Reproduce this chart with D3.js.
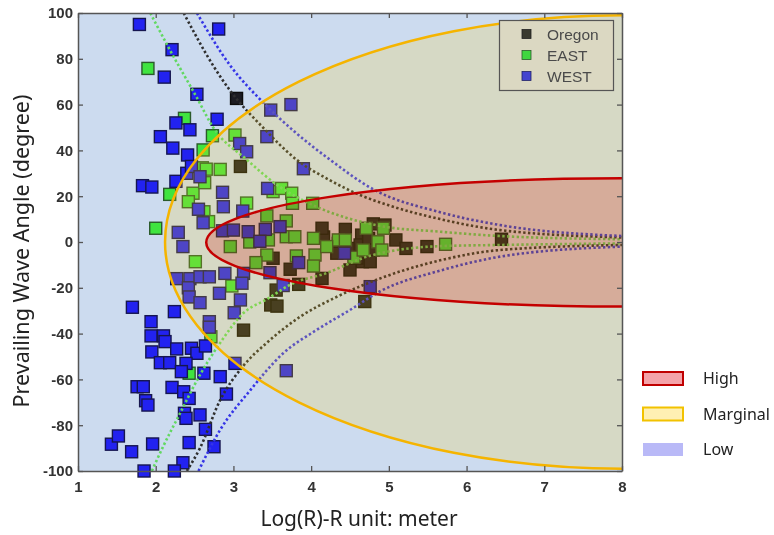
<!DOCTYPE html>
<html>
<head>
<meta charset="utf-8">
<script src="https://cdn.jsdelivr.net/npm/d3@7"></script>
<style>
body { margin: 0; background: #fff; }
</style>
</head>
<body>
<script>
var w = 774, h = 535;

// [Log(R), angle]
var oregon = [
  [3.04,62.7],[3.09,33],[4.44,5.5],[4.8,7.9],[4.95,7.4],[4.16,2.2],[4.65,3],[4.35,-0.6],
  [4.5,-2.8],[4.63,-1.3],[4.74,1.6],[4.8,-3.5],[4.66,-8.6],[4.76,-8.6],[4.33,-4.9],[5.09,0.9],
  [5.22,-2.8],[5.49,-2],[6.45,1.2],[4.5,-12.2],[4.14,-15.9],[3.73,-11.9],[3.51,-7.1],[3.84,-18.5],
  [3.55,-21],[3.48,-27.5],[3.56,-28],[3.13,-38.5],[4.69,-26],[4.14,6],[4.59,-7]
];
var east = [
  [1.90,75.8],[2.37,54],[2.73,46.4],[2.61,40.2],[3.02,46.7],[2.0,6],[2.18,20.8],[2.48,21.3],
  [2.60,32.4],[2.65,31.8],[2.83,31.7],[2.63,25.9],[3.17,17],[2.42,17.6],[2.62,13.2],[2.68,8.9],
  [2.96,-2],[3.51,22],[3.62,23.4],[3.75,21.3],[3.76,16.9],[4.02,16.9],[3.43,11.4],[3.68,9.2],
  [3.68,2.3],[3.79,2.3],[3.21,0],[3.45,0.9],[4.71,6],[4.93,6],[4.03,1.6],[4.35,0.9],
  [3.43,-5.7],[3.29,-9],[3.81,-6.1],[4.05,-5.7],[4.03,-10.5],[4.2,-2],[4.44,0.9],[4.55,-6.7],
  [4.67,-3.5],[4.86,0.1],[4.91,-3.5],[5.73,-1],[2.51,-8.6],[2.98,-19.2],[2.71,-41.4],[2.43,-57.3]
];
var west = [
  [1.79,95],[2.81,93],[2.21,84],[2.11,72],[2.53,64.5],[2.26,52],[2.44,49],[2.79,53.6],
  [2.06,46],[2.22,41],[2.41,38],[1.83,24.6],[1.95,24],[2.26,26.5],[2.40,30],[2.46,33],
  [3.48,57.6],[3.74,60],[3.43,46],[3.90,32],[3.08,43],[3.17,39.4],[2.57,28.5],[2.86,21.7],
  [3.44,23.4],[2.87,15.4],[2.55,14.3],[2.61,8.4],[3.12,13.5],[2.29,4.2],[2.86,4.9],[3.0,5.2],
  [3.19,4.5],[3.41,5.5],[3.6,6.7],[3.34,0.3],[2.35,-2],[4.43,-4.9],[3.84,-9],[3.47,-13.4],
  [3.64,-19],[4.76,-19.5],[2.27,-16],[2.44,-16],[2.42,-20],[2.57,-15.2],[2.69,-15.2],[2.89,-13.7],
  [3.13,-13.7],[3.11,-18],[2.82,-22.4],[2.43,-24],[2.57,-26.5],[3.09,-25.3],[3.01,-30.9],[2.69,-34.8],
  [2.69,-37.2],[3.68,-56.2],[1.70,-28.5],[2.24,-30.4],[1.94,-34.8],[1.94,-41],[2.10,-41],[2.12,-43.5],
  [1.95,-48],[2.06,-52.7],[2.18,-52.7],[2.27,-46.7],[2.46,-46.4],[2.53,-48.6],[2.64,-45.4],[2.39,-53],
  [2.33,-56.6],[2.62,-57.3],[2.83,-58.8],[3.02,-53],[1.76,-63.2],[1.84,-63.2],[1.87,-69.3],[1.90,-71.2],
  [2.21,-63.5],[2.36,-65.4],[2.43,-68.3],[2.91,-66.4],[2.37,-74.8],[2.39,-77],[2.57,-75.5],[2.64,-81.8],
  [1.43,-88.3],[1.52,-84.7],[1.69,-91.6],[1.96,-88.2],[2.43,-87.6],[2.75,-89.4],[2.35,-96.4],[1.85,-100],
  [2.24,-100]
];

// dotted guide curves (upper / lower branch)
var greenUp = [[1.93,100],[2.18,84],[2.53,63],[2.74,50],[3.17,36],[3.6,24],[4.03,16],[4.89,7],[5.66,4.5],[6.43,2.6],[8,1.2]];
var greenLo = [[1.95,-100],[2.1,-89],[2.31,-75],[2.57,-58],[2.83,-44],[3.13,-31],[3.43,-25],[3.77,-18],[4.16,-14],[4.76,-6],[5.66,-1.8],[6.43,-1.3],[8,-0.6]];
var blackUp = [[2.36,100],[2.74,77],[2.96,66],[3.38,50],[3.81,36],[4.24,27],[4.63,20.5],[5.0,16],[5.66,10],[6.43,5.2],[8,2]];
var blackLo = [[2.4,-100],[2.57,-90],[2.83,-69],[3.13,-54],[3.43,-44],[3.86,-32.6],[4.29,-24.6],[4.67,-18.8],[5.66,-8],[6.43,-3.5],[8,-1.3]];
var blueUp = [[2.53,100],[2.96,77],[3.38,61],[3.81,47.5],[4.24,36],[4.8,23],[5.66,13],[6.43,7.4],[8,2.6]];
var blueLo = [[2.55,-100],[2.83,-82],[3.21,-65],[3.64,-48.6],[4.07,-38.4],[4.5,-29.7],[4.89,-21.5],[5.66,-12.5],[6.43,-6.4],[8,-2]];

// zones: [left tip, centre x, centre y, half height]
var marginal = [2.12, 8, 0, 99];
var high = [2.65, 8, -0.2, 28];

var xTicks = [1,2,3,4,5,6,7,8];
var yTicks = [-100,-80,-60,-40,-20,0,20,40,60,80,100];
var seriesNames = ["Oregon", "EAST", "WEST"];
var zoneNames = ["High", "Marginal", "Low"];

var x = d3.scaleLinear().domain([1, 8]).range([78, 622]);
var y = d3.scaleLinear().domain([-100, 100]).range([471, 13]);

var svg = d3.select("body").append("svg")
    .attr("width", w)
    .attr("height", h);

var defs = svg.append("defs");
defs.append("clipPath").attr("id", "plotclip")
    .append("rect")
    .attr("x", x(1)).attr("y", y(100))
    .attr("width", x(8) - x(1)).attr("height", y(-100) - y(100));

// low zone = whole background
svg.append("rect")
    .attr("x", x(1)).attr("y", y(100))
    .attr("width", x(8) - x(1)).attr("height", y(-100) - y(100))
    .attr("fill", "#ccdbef");

var sq = 12;
function drawSquares(data, fill, stroke) {
  svg.append("g").selectAll("rect")
    .data(data)
    .enter()
    .append("rect")
    .attr("x", function(d){ return x(d[0]) - sq/2; })
    .attr("y", function(d){ return y(d[1]) - sq/2; })
    .attr("width", sq)
    .attr("height", sq)
    .attr("fill", fill)
    .attr("stroke", stroke)
    .attr("stroke-width", 1.4);
}
drawSquares(oregon, "#1c1c22", "#0c0c0c");
drawSquares(east, "#3fe43f", "#2b5a2b");
drawSquares(west, "#2222f0", "#161650");

var line = d3.line()
    .x(function(d){ return x(d[0]); })
    .y(function(d){ return y(d[1]); })
    .curve(d3.curveMonotoneX);

[[greenUp, "#62d862"], [greenLo, "#62d862"],
 [blackUp, "#2f2f2f"], [blackLo, "#2f2f2f"],
 [blueUp, "#3535e6"], [blueLo, "#3535e6"]].forEach(function(c){
  svg.append("path")
    .attr("clip-path", "url(#plotclip)")
    .attr("d", line(c[0]))
    .attr("fill", "none")
    .attr("stroke", c[1])
    .attr("stroke-width", 2.6)
    .attr("stroke-dasharray", "2.4,2.4");
});

var mEl = function(sel){
  return sel.attr("cx", x(marginal[1])).attr("cy", y(marginal[2]))
    .attr("rx", x(marginal[1]) - x(marginal[0]))
    .attr("ry", y(0) - y(marginal[3]))
    .attr("clip-path", "url(#plotclip)");
};
var hEl = function(sel){
  return sel.attr("cx", x(high[1])).attr("cy", y(high[2]))
    .attr("rx", x(high[1]) - x(high[0]))
    .attr("ry", y(0) - y(high[3]))
    .attr("clip-path", "url(#plotclip)");
};
svg.append("ellipse").call(mEl)
    .attr("fill", "rgba(255,210,30,0.2)")
    .attr("stroke", "#f5b400")
    .attr("stroke-width", 2.5);
svg.append("ellipse").call(hEl)
    .attr("fill", "rgb(255,202,200)")
    .attr("stroke", "none")
    .style("mix-blend-mode", "multiply");
svg.append("ellipse").call(hEl)
    .attr("fill", "none")
    .attr("stroke", "#c40000")
    .attr("stroke-width", 2.5);

// axes, ticks inward on all sides
function styleAxis(g) {
  g.select(".domain").attr("stroke", "#555").attr("stroke-width", 1.5);
  g.selectAll(".tick line").attr("stroke", "#555").attr("stroke-width", 1.3);
  g.selectAll("text")
    .attr("font-family", "Liberation Sans, Arial, sans-serif")
    .attr("font-weight", "bold")
    .attr("font-size", "15px")
    .attr("fill", "#333");
}
var plain = function(d){ return String(d); };
svg.append("g")
    .attr("transform", "translate(0," + y(-100) + ")")
    .call(d3.axisBottom(x).tickValues(xTicks).tickFormat(plain)
      .tickSizeInner(-5).tickSizeOuter(0).tickPadding(10))
    .call(styleAxis);
svg.append("g")
    .attr("transform", "translate(0," + y(100) + ")")
    .call(d3.axisTop(x).tickValues(xTicks).tickSizeInner(-5).tickSizeOuter(0).tickFormat(""))
    .call(styleAxis);
svg.append("g")
    .attr("transform", "translate(" + x(1) + ",0)")
    .call(d3.axisLeft(y).tickValues(yTicks).tickFormat(plain)
      .tickSizeInner(-5).tickSizeOuter(0).tickPadding(5))
    .call(styleAxis);
svg.append("g")
    .attr("transform", "translate(" + x(8) + ",0)")
    .call(d3.axisRight(y).tickValues(yTicks).tickSizeInner(-5).tickSizeOuter(0).tickFormat(""))
    .call(styleAxis);

// axis titles
svg.append("text")
    .attr("transform", "translate(29,251) rotate(-90)")
    .attr("text-anchor", "middle")
    .attr("font-family", "Noto Sans, sans-serif")
    .attr("font-size", "21.5px")
    .attr("fill", "#222")
    .text("Prevailing Wave Angle (degree)");
svg.append("text")
    .attr("x", 359).attr("y", 526)
    .attr("text-anchor", "middle")
    .attr("font-family", "Noto Sans, sans-serif")
    .attr("font-size", "21px")
    .attr("fill", "#222")
    .text("Log(R)-R unit: meter");

// series legend
var lg = svg.append("g");
lg.append("rect")
    .attr("x", 499.5).attr("y", 20.5)
    .attr("width", 114).attr("height", 70)
    .attr("fill", "#dbd8c2")
    .attr("stroke", "#555")
    .attr("stroke-width", 1.2);
var swatch = ["#3a3a2f", "#3fd63f", "#4444cf"];
var swStroke = ["#222", "#2b5a2b", "#222266"];
seriesNames.forEach(function(n, i){
  var cy = 34 + i * 21;
  lg.append("rect")
    .attr("x", 522).attr("y", cy - 4.5)
    .attr("width", 9).attr("height", 9)
    .attr("fill", swatch[i]).attr("stroke", swStroke[i]).attr("stroke-width", 0.8);
  lg.append("text")
    .attr("x", 547).attr("y", cy + 5.5)
    .attr("font-family", "Liberation Sans, Arial, sans-serif")
    .attr("font-size", "15.5px")
    .attr("fill", "#4a4a4a")
    .text(n);
});

// zone legend
var zFill = ["#f4a3a9", "#fff0b3", "#b9b9f7"];
var zStroke = ["#c00000", "#f2c200", "none"];
var zl = svg.append("g");
zoneNames.forEach(function(n, i){
  var cy = 378.5 + i * 35.5;
  zl.append("rect")
    .attr("x", 643).attr("y", cy - 6.5)
    .attr("width", 40).attr("height", 13)
    .attr("fill", zFill[i])
    .attr("stroke", zStroke[i])
    .attr("stroke-width", 2);
  zl.append("text")
    .attr("x", 703).attr("y", cy + 5.5)
    .attr("font-family", "Noto Sans, sans-serif")
    .attr("font-size", "16px")
    .attr("fill", "#222")
    .text(n);
});
</script>
</body>
</html>
